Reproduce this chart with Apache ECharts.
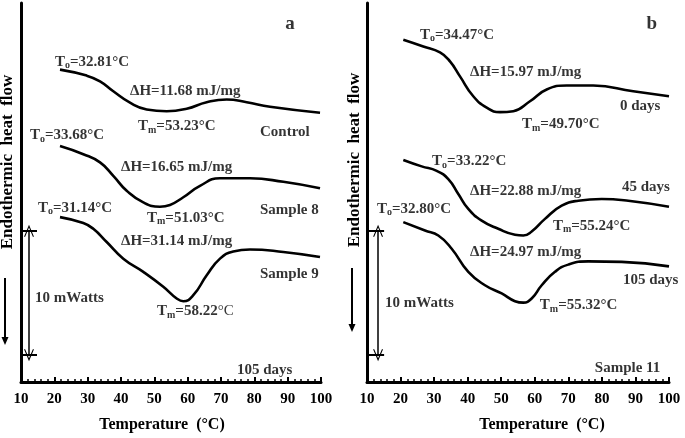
<!DOCTYPE html>
<html><head><meta charset="utf-8">
<script src="https://cdn.jsdelivr.net/npm/echarts@6/dist/echarts.min.js"></script>
<style>html,body{margin:0;padding:0;background:#fff}#c{width:685px;height:438px}</style>
</head><body><div id="c"></div>
<script>
// Panel a curves (Temperature °C, relative heat flow mW)
const controlT = [21.7, 29.71, 33.7, 37.69, 42.7, 47.71, 53.71, 59.71, 65.71, 71.71, 77.71, 84.71, 99.71];
const controlV = [25.12, 24.64, 24.18, 23.38, 22.46, 21.92, 21.78, 21.98, 22.5, 22.72, 22.5, 22.14, 21.66];
const s8T = [21.7, 28.69, 33.7, 37.69, 41.71, 46.69, 51.7, 54.7, 58.69, 63.7, 69.7, 78.71, 88.7, 99.71];
const s8V = [18.98, 18.32, 17.66, 16.58, 15.38, 14.44, 14.1, 14.24, 14.86, 15.78, 16.38, 16.38, 16.1, 15.58];
const s9T = [21.7, 28.69, 31.69, 35.71, 40.69, 46.69, 52.69, 56.71, 58.69, 61.69, 65.71, 69.7, 73.69, 78.7, 88.69, 99.7];
const s9V = [13.26, 12.78, 12.32, 11.26, 9.92, 8.86, 7.66, 6.72, 6.5, 6.98, 8.58, 9.92, 10.5, 10.66, 10.46, 10.06];
// Panel b curves
const d0T = [20.82, 26.78, 31.75, 34.73, 37.71, 41.67, 45.67, 49.63, 53.59, 58.57, 63.55, 69.51, 77.43, 89.35, 100];
const d0V = [27.52, 26.98, 26.5, 25.78, 24.58, 22.98, 22.06, 21.7, 21.78, 22.58, 23.52, 23.84, 23.84, 23.38, 22.98];
const d45T = [20.82, 26.3, 30.77, 34.23, 37.21, 40.19, 44.18, 49.12, 54.1, 56.57, 59.08, 63.04, 68.02, 72.96, 79.94, 87.86, 100];
const d45V = [17.86, 17.34, 16.98, 16.32, 15.12, 13.92, 12.98, 12.32, 11.84, 11.78, 12.1, 13.12, 14.18, 14.58, 14.72, 14.58, 14.1];
const d105T = [20.82, 27.28, 31.25, 35.24, 40.19, 45.16, 50.14, 54.1, 56.57, 59.08, 62.06, 66.02, 69.98, 75.94, 85.9, 100];
const d105V = [12.86, 12.18, 11.78, 10.72, 8.86, 7.78, 7.12, 6.5, 6.38, 6.72, 7.78, 8.86, 9.44, 9.7, 9.66, 9.3];
// tick labels
const xTicks = [10, 20, 30, 40, 50, 60, 70, 80, 90, 100];
// annotations [T, value, text]
const annA = [
  [20.2, 25.76, '{m|T}{s|o}{m|=32.81°C}'],
  [42.7, 23.36, '{m|ΔH=11.68 mJ/mg}'],
  [45.1, 20.56, '{m|T}{s|m}{m|=53.23°C}'],
  [81.7, 20.08, '{m|Control}'],
  [12.7, 19.84, '{m|T}{s|o}{m|=33.68°C}'],
  [40.0, 17.28, '{m|ΔH=16.65 mJ/mg}'],
  [81.7, 13.84, '{m|Sample 8}'],
  [47.8, 13.2, '{m|T}{s|m}{m|=51.03°C}'],
  [15.1, 14.0, '{m|T}{s|o}{m|=31.14°C}'],
  [40.0, 11.36, '{m|ΔH=31.14 mJ/mg}'],
  [81.7, 8.64, '{m|Sample 9}'],
  [50.8, 5.68, '{m|T}{s|m}{m|=58.22}{n|°C}'],
  [14.2, 6.72, '{m|10 mWatts}'],
  [74.8, 0.96, '{m|105 days}']
];
const annB = [
  [25.8, 27.92, '{m|T}{s|o}{m|=34.47°C}'],
  [40.7, 24.96, '{m|ΔH=15.97 mJ/mg}'],
  [85.4, 22.16, '{m|0 days}'],
  [56.2, 20.72, '{m|T}{s|m}{m|=49.70°C}'],
  [29.4, 17.76, '{m|T}{s|o}{m|=33.22°C}'],
  [40.7, 15.36, '{m|ΔH=22.88 mJ/mg}'],
  [86.0, 15.68, '{m|45 days}'],
  [13.0, 13.92, '{m|T}{s|o}{m|=32.80°C}'],
  [65.4, 12.56, '{m|T}{s|m}{m|=55.24°C}'],
  [40.7, 10.48, '{m|ΔH=24.97 mJ/mg}'],
  [86.3, 8.16, '{m|105 days}'],
  [61.5, 6.16, '{m|T}{s|m}{m|=55.32°C}'],
  [15.4, 6.32, '{m|10 mWatts}'],
  [77.9, 1.12, '{m|Sample 11}']
];
const panelLetters = [[90.7, 28.8, 'a'], [94.9, 28.8, 'b']];
// scale bar (10 mW) positions
const barA = {x: 12.4, cap: [10.3, 14.8], y0: 2.16, y1: 12.16};
const barB = {x: 13.3, cap: [10.0, 15.1], y0: 2.16, y1: 12.16};

const FONT = '"Liberation Serif", "Times New Roman", serif';
const zip = (a, b) => a.map((v, i) => [v, b[i]]);
const chevron = 'path://M0,12 L6,0 L12,12 L10.6,12 L6,2.8 L1.4,12 Z';
const rich = {
  m: {fontFamily: FONT, fontWeight: 'bold', fontSize: 15, color: '#000', lineHeight: 18},
  n: {fontFamily: FONT, fontWeight: 'normal', fontSize: 15, color: '#000', lineHeight: 18},
  s: {fontFamily: FONT, fontWeight: 'bold', fontSize: 10, color: '#000', lineHeight: 8, verticalAlign: 'bottom'}
};
function xAxisCfg(i, pad) {
  return {
    type: 'value', gridIndex: i, min: 10, max: 100, interval: 10,
    axisLine: {show: true, onZero: false, lineStyle: {color: '#000', width: 3}},
    axisTick: {show: true, inside: true, length: 5, lineStyle: {color: '#000', width: 2}},
    minorTick: {show: true, splitNumber: 5, length: 3, lineStyle: {color: '#000', width: 1.5}},
    splitLine: {show: false},
    axisLabel: {margin: 10, color: '#000', fontFamily: FONT, fontWeight: 'bold', fontSize: 15,
      formatter: v => xTicks.includes(v) ? String(v) : ''},
    name: 'Temperature  (°C)', nameLocation: 'middle', nameGap: 35,
    nameTextStyle: {color: '#000', fontFamily: FONT, fontWeight: 'bold', fontSize: 16, padding: pad}
  };
}
function yAxisCfg(i) {
  return {
    type: 'value', gridIndex: i, min: 0, max: 30.48,
    axisLine: {show: true, onZero: false, lineStyle: {color: '#000', width: 3}},
    axisTick: {show: false}, axisLabel: {show: false}, splitLine: {show: false}
  };
}
function curve(i, T, V) {
  return {type: 'line', xAxisIndex: i, yAxisIndex: i, data: zip(T, V), smooth: 0.5,
    showSymbol: false, symbol: 'none', lineStyle: {color: '#000', width: 2.6}, silent: true};
}
function annSeries(i, ann, letter, bar) {
  const lw = {color: '#000', width: 1.5, type: 'solid'};
  const cw = {color: '#000', width: 2, type: 'solid'};
  return [{
    type: 'scatter', xAxisIndex: i, yAxisIndex: i, symbolSize: 0, silent: true, clip: false,
    data: ann.map(a => ({value: [a[0], a[1]], label: {formatter: a[2]}})),
    label: {show: true, position: 'right', distance: 0, rich: rich},
    markLine: {
      silent: true, animation: false, label: {show: false}, symbolSize: [10, 12],
      lineStyle: lw,
      data: [
        [{coord: [bar.x, bar.y1], symbol: chevron}, {coord: [bar.x, bar.y0], symbol: chevron}],
        [{coord: [bar.cap[0], bar.y1], symbol: 'none', lineStyle: cw}, {coord: [bar.cap[1], bar.y1], symbol: 'none'}],
        [{coord: [bar.cap[0], bar.y0], symbol: 'none', lineStyle: cw}, {coord: [bar.cap[1], bar.y0], symbol: 'none'}]
      ]
    }
  }, {
    type: 'scatter', xAxisIndex: i, yAxisIndex: i, symbolSize: 0, silent: true, clip: false,
    data: [{value: [letter[0], letter[1]], label: {formatter: letter[2]}}],
    label: {show: true, position: 'inside', color: '#000', fontFamily: FONT, fontWeight: 'bold', fontSize: 19}
  }];
}
function downArrow(x, y0, y1) {
  return [
    {type: 'line', shape: {x1: x, y1: y0, x2: x, y2: y1 - 6}, style: {stroke: '#000', lineWidth: 2}},
    {type: 'polygon', shape: {points: [[x - 3.5, y1 - 8], [x + 3.5, y1 - 8], [x, y1]]}, style: {fill: '#000'}}
  ];
}
function yTitle(x, y) {
  return {type: 'text', x: x, y: y, rotation: Math.PI / 2,
    style: {text: 'Endothermic  heat  flow', align: 'center', verticalAlign: 'middle', font: 'bold 17px ' + FONT, fill: '#000'}};
}
const chart = echarts.init(document.getElementById('c'), null, {renderer: 'canvas'});
chart.setOption({
  animation: false,
  backgroundColor: '#fff',
  grid: [
    {left: 21, right: 364, top: 3, bottom: 54},
    {left: 367, right: 16, top: 3, bottom: 54}
  ],
  xAxis: [xAxisCfg(0, [0, 18, 0, 0]), xAxisCfg(1, [0, 0, 0, 48])],
  yAxis: [yAxisCfg(0), yAxisCfg(1)],
  graphic: [
    yTitle(8, 162), yTitle(355, 160),
    ...downArrow(5, 278, 345), ...downArrow(352, 268, 332)
  ],
  series: [
    curve(0, controlT, controlV), curve(0, s8T, s8V), curve(0, s9T, s9V),
    curve(1, d0T, d0V), curve(1, d45T, d45V), curve(1, d105T, d105V),
    ...annSeries(0, annA, panelLetters[0], barA),
    ...annSeries(1, annB, panelLetters[1], barB)
  ]
});
</script></body></html>
